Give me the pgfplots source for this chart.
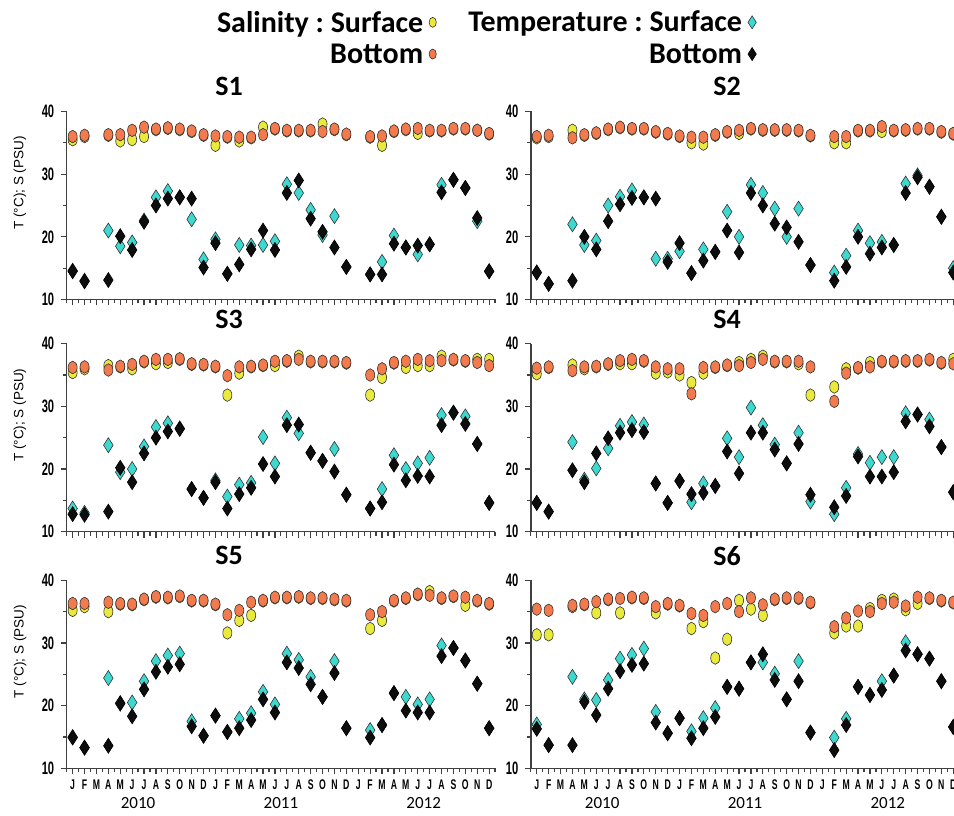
\documentclass[border=0pt]{standalone}
\usepackage{pgfplots}
\pgfplotsset{compat=1.18}
\usepackage{pgfplotstable}
\usepackage{fontspec}
\usepackage{graphicx}
\setmainfont{Carlito}
\newfontfamily\lsans{Liberation Sans}
\definecolor{salS}{HTML}{EAEA3C}
\definecolor{salB}{HTML}{F27A4C}
\definecolor{tmpS}{HTML}{3DD8D0}
\definecolor{tmpB}{HTML}{0D0D0D}
\newcommand{\mc}[1]{\scalebox{0.62}[1]{#1}}
\newcommand{\yc}[1]{\scalebox{0.62}[1]{#1}}
\frenchspacing

\pgfplotstableread{
m ss sb ts tb
0.5 35.5 36.0 14.6 14.5
1.5 36.0 36.2 13.0 12.9
2.5 nan nan nan nan
3.5 36.2 36.3 21.0 13.1
4.5 35.3 36.3 18.5 20.1
5.5 35.5 37.0 19.1 17.9
6.5 36.0 37.5 22.6 22.4
7.5 37.1 37.2 26.3 25.0
8.5 37.3 37.4 27.3 26.1
9.5 37.1 37.2 26.3 26.3
10.5 36.8 36.9 22.8 26.1
11.5 36.2 36.3 16.4 15.1
12.5 34.6 36.1 19.6 19.0
13.5 35.9 36.0 14.1 14.1
14.5 35.3 35.9 18.7 15.6
15.5 35.8 35.9 18.6 18.0
16.5 37.5 36.3 18.7 21.0
17.5 37.2 37.3 19.3 17.9
18.5 36.9 37.0 28.4 27.0
19.5 36.9 37.0 27.0 29.0
20.5 36.9 37.0 24.3 22.9
21.5 38.0 36.8 20.3 20.8
22.5 37.1 37.2 23.3 18.3
23.5 36.3 36.4 15.2 15.2
24.5 nan nan nan nan
25.5 35.9 36.0 14.0 14.0
26.5 34.6 36.1 16.0 14.0
27.5 36.8 36.9 20.2 18.9
28.5 37.1 37.2 18.3 18.3
29.5 36.5 37.3 17.2 18.6
30.5 36.9 37.0 18.8 18.8
31.5 36.9 37.0 28.3 27.1
32.5 37.2 37.3 29.1 29.1
33.5 37.2 37.3 27.8 27.8
34.5 37.0 37.0 22.5 23.0
35.5 36.4 36.5 14.5 14.5
}\dA

\pgfplotstableread{
m ss sb ts tb
0.5 35.8 36.0 14.3 14.3
1.5 36.0 36.2 12.5 12.5
2.5 nan nan nan nan
3.5 37.0 35.8 22.0 13.0
4.5 36.2 36.3 18.7 20.0
5.5 36.5 36.6 19.4 18.0
6.5 37.1 37.2 25.0 22.5
7.5 37.4 37.5 26.4 25.2
8.5 37.2 37.3 27.4 26.2
9.5 37.2 37.3 26.3 26.3
10.5 36.7 36.8 16.5 26.1
11.5 36.4 36.5 16.5 16.0
12.5 36.0 36.1 17.7 19.0
13.5 35.0 35.9 14.2 14.2
14.5 34.8 35.9 18.0 16.2
15.5 36.2 36.3 17.6 17.6
16.5 36.7 36.8 24.0 21.0
17.5 36.5 37.0 20.0 17.5
18.5 37.2 37.3 28.3 27.0
19.5 37.0 37.1 27.0 25.0
20.5 37.0 37.1 24.5 22.1
21.5 37.0 37.1 20.0 21.5
22.5 36.9 37.0 24.5 19.2
23.5 36.1 36.2 15.5 15.5
24.5 nan nan nan nan
25.5 35.0 36.0 14.3 13.0
26.5 35.0 36.0 17.0 15.2
27.5 36.9 37.0 21.0 20.0
28.5 36.9 37.0 19.0 17.3
29.5 36.8 37.6 19.2 18.3
30.5 36.9 37.0 18.7 18.7
31.5 37.0 37.1 28.5 27.0
32.5 37.2 37.3 29.8 29.5
33.5 37.2 37.3 28.0 28.0
34.5 36.7 36.8 23.2 23.2
35.5 36.4 36.5 15.0 14.3
}\dB

\pgfplotstableread{
m ss sb ts tb
0.5 35.4 36.2 13.7 12.8
1.5 36.0 36.3 13.0 12.7
2.5 nan nan nan nan
3.5 36.5 35.8 23.8 13.2
4.5 36.3 36.4 19.5 20.2
5.5 36.0 36.7 20.0 17.9
6.5 37.1 37.2 23.6 22.5
7.5 36.8 37.5 26.7 25.0
8.5 37.0 37.5 27.3 26.0
9.5 37.5 37.6 26.5 26.4
10.5 36.7 36.8 16.8 16.8
11.5 36.6 36.7 15.4 15.4
12.5 36.3 36.4 18.2 17.9
13.5 31.8 34.9 15.6 13.7
14.5 35.3 36.3 17.5 16.0
15.5 36.3 36.4 17.8 17.0
16.5 36.5 36.6 25.1 20.8
17.5 36.5 37.2 20.9 18.8
18.5 37.2 37.3 28.2 27.0
19.5 38.0 37.5 25.7 27.1
20.5 37.1 37.2 22.6 22.6
21.5 37.1 37.2 21.3 21.3
22.5 37.1 37.2 23.2 19.6
23.5 36.9 37.0 15.9 15.9
24.5 nan nan nan nan
25.5 31.8 35.0 13.7 13.7
26.5 34.6 36.0 16.8 14.7
27.5 36.9 37.0 22.2 20.7
28.5 36.2 37.2 20.0 18.2
29.5 36.5 37.5 20.9 18.9
30.5 36.5 37.3 21.8 18.8
31.5 38.0 37.3 28.6 27.0
32.5 37.4 37.5 29.0 29.0
33.5 37.2 37.3 28.4 27.2
34.5 37.5 37.0 24.0 24.0
35.5 37.5 36.5 14.6 14.6
}\dC

\pgfplotstableread{
m ss sb ts tb
0.5 35.2 36.1 14.6 14.6
1.5 36.2 36.3 13.2 13.2
2.5 nan nan nan nan
3.5 36.6 35.7 24.3 19.8
4.5 36.0 36.3 18.3 17.9
5.5 36.3 36.4 20.1 22.5
6.5 36.7 36.8 23.3 24.9
7.5 36.8 37.3 26.9 25.8
8.5 36.8 37.5 27.5 26.2
9.5 37.2 37.3 27.1 25.9
10.5 35.3 36.3 17.7 17.7
11.5 35.5 36.0 14.6 14.6
12.5 35.0 36.0 18.1 18.1
13.5 33.8 32.0 14.7 16.0
14.5 35.3 36.2 17.7 16.2
15.5 36.2 36.3 17.3 17.3
16.5 36.5 36.6 24.9 22.8
17.5 37.0 36.5 21.9 19.3
18.5 37.5 37.0 29.8 25.8
19.5 38.0 37.5 27.0 25.8
20.5 37.1 37.2 23.9 23.1
21.5 37.1 37.2 20.9 20.9
22.5 36.8 37.2 25.8 24.0
23.5 31.8 36.3 14.8 15.9
24.5 nan nan nan nan
25.5 33.1 30.8 12.8 13.9
26.5 36.0 35.3 17.0 15.7
27.5 36.1 36.2 22.4 22.0
28.5 37.0 36.3 21.0 18.8
29.5 37.1 37.2 21.9 18.8
30.5 37.1 37.2 21.9 19.5
31.5 37.2 37.3 28.9 27.6
32.5 37.2 37.3 28.7 28.7
33.5 37.4 37.5 27.9 26.8
34.5 36.9 37.0 23.5 23.5
35.5 37.5 36.8 16.3 16.3
}\dD

\pgfplotstableread{
m ss sb ts tb
0.5 35.2 36.3 15.0 14.9
1.5 35.8 36.3 13.3 13.3
2.5 nan nan nan nan
3.5 35.0 36.5 24.4 13.6
4.5 36.2 36.3 20.3 20.4
5.5 36.1 36.2 20.5 18.3
6.5 36.9 37.0 23.9 22.6
7.5 37.3 37.4 27.1 25.4
8.5 37.2 37.3 28.0 26.2
9.5 37.4 37.5 28.3 26.6
10.5 36.7 36.8 17.5 16.7
11.5 36.7 36.8 15.2 15.2
12.5 36.1 36.2 18.4 18.4
13.5 31.6 34.5 15.8 15.8
14.5 33.6 35.2 17.9 16.4
15.5 34.4 36.5 18.8 17.7
16.5 36.7 36.8 22.2 21.0
17.5 37.2 37.3 20.2 18.9
18.5 37.2 37.3 28.3 26.9
19.5 37.3 37.4 27.3 26.0
20.5 37.1 37.2 24.6 23.4
21.5 37.1 37.2 21.4 21.4
22.5 36.9 37.0 27.1 25.2
23.5 36.7 36.8 16.4 16.4
24.5 nan nan nan nan
25.5 32.3 34.5 16.1 14.9
26.5 33.6 35.0 16.9 16.9
27.5 36.7 36.8 22.0 22.0
28.5 37.1 37.2 21.4 19.2
29.5 37.7 37.8 20.2 18.9
30.5 38.2 37.6 21.0 18.9
31.5 37.1 37.2 29.6 27.9
32.5 37.4 37.5 29.2 29.2
33.5 36.0 37.3 27.2 27.2
34.5 36.7 36.8 23.5 23.5
35.5 36.2 36.3 16.4 16.4
}\dE

\pgfplotstableread{
m ss sb ts tb
0.5 31.3 35.4 17.0 16.3
1.5 31.3 35.2 13.7 13.7
2.5 nan nan nan nan
3.5 35.8 36.0 24.6 13.7
4.5 36.1 36.2 21.0 20.6
5.5 34.8 36.6 20.9 18.5
6.5 36.9 37.0 24.1 22.7
7.5 34.8 37.1 27.5 25.5
8.5 37.2 37.3 28.1 26.5
9.5 37.1 37.2 29.1 26.7
10.5 34.8 35.8 19.0 17.3
11.5 36.2 36.3 15.6 15.6
12.5 35.9 36.0 18.0 18.0
13.5 32.3 34.7 15.9 14.8
14.5 33.4 34.4 18.0 16.4
15.5 27.6 35.8 19.6 18.2
16.5 30.6 36.3 23.0 23.0
17.5 36.8 35.0 22.7 22.7
18.5 35.4 37.2 26.9 26.9
19.5 34.4 36.1 26.9 28.2
20.5 36.9 37.0 25.1 24.1
21.5 37.1 37.2 21.0 21.0
22.5 37.1 37.2 27.1 23.9
23.5 36.4 36.5 15.7 15.7
24.5 nan nan nan nan
25.5 31.6 32.6 14.9 12.9
26.5 32.7 34.0 17.9 16.9
27.5 32.7 35.1 23.0 23.0
28.5 35.5 35.0 21.7 21.7
29.5 36.8 36.3 23.9 22.5
30.5 37.0 36.5 24.8 24.8
31.5 35.3 35.9 30.1 28.8
32.5 36.3 37.3 28.2 28.2
33.5 37.1 37.2 27.5 27.5
34.5 36.7 36.8 23.9 23.9
35.5 36.4 36.5 16.6 16.6
}\dF

\pgfplotsset{
  ssS/.style={only marks, mark=*, mark size=6.3pt, mark options={fill=salS, draw=black!80, line width=0.6pt, xscale=0.72}},
  sbS/.style={only marks, mark=*, mark size=6.3pt, mark options={fill=salB, draw=black!80, line width=0.6pt, xscale=0.72}},
  tsS/.style={only marks, mark=diamond*, mark size=7.5pt, mark options={fill=tmpS, draw=black!80, line width=0.6pt, xscale=0.85}},
  tbS/.style={only marks, mark=diamond*, mark size=7.5pt, mark options={fill=tmpB, draw=black, line width=0.6pt, xscale=0.85}},
  panel/.style={scale only axis, width=428.4pt, height=188pt, anchor=south west,
    xmin=0, xmax=36, ymin=10, ymax=40, clip=false,
    axis x line*=bottom, axis y line*=left, tick align=outside,
    xtick={0.5,1.5,...,35.5}, minor xtick={0,1,...,36},
    ytick={10,20,30,40}, minor ytick={15,25,35},
    yticklabels={\yc{10},\yc{20},\yc{30},\yc{40}}, xticklabels={},
    major tick length=6pt, minor tick length=4pt,
    tick style={black!75, line width=1.2pt},
    axis line style={black!75, line width=1.4pt},
    yticklabel style={font=\lsans\bfseries\fontsize{18}{18}\selectfont, xshift=-3pt},
    xticklabel style={font=\lsans\bfseries\fontsize{14}{14}\selectfont, inner sep=1pt, yshift=-4pt},
    title style={font=\bfseries\fontsize{28}{28}\selectfont, anchor=center, yshift=18.7pt},
    ylabel style={font=\lsans\fontsize{13.5}{13.5}\selectfont, at={(axis description cs:-0.109,0.62)}, anchor=center},
  },
  leftp/.style={panel, ylabel={T (°C); S (PSU)}, title style={at={(axis description cs:0.379,1)}}},
  rightp/.style={panel, title style={at={(axis description cs:0.458,1)}}},
  months/.style={xticklabels={\mc{J},\mc{F},\mc{M},\mc{A},\mc{M},\mc{J},\mc{J},\mc{A},\mc{S},\mc{O},\mc{N},\mc{D},
    \mc{J},\mc{F},\mc{M},\mc{A},\mc{M},\mc{J},\mc{J},\mc{A},\mc{S},\mc{O},\mc{N},\mc{D},
    \mc{J},\mc{F},\mc{M},\mc{A},\mc{M},\mc{J},\mc{J},\mc{A},\mc{S},\mc{O},\mc{N},\mc{D}}},
}
\newcommand{\four}[1]{%
  \addplot[ssS, forget plot] table[x=m, y=ss] {#1};
  \addplot[sbS, forget plot] table[x=m, y=sb] {#1};
  \addplot[tsS, forget plot] table[x=m, y=ts] {#1};
  \addplot[tbS, forget plot] table[x=m, y=tb] {#1};
}
\newcommand{\years}{%
  \node[font=\fontsize{17}{17}\selectfont, inner sep=0pt] at (axis cs:6,10) [yshift=-35pt] {2010};
  \node[font=\fontsize{17}{17}\selectfont, inner sep=0pt] at (axis cs:18,10) [yshift=-35pt] {2011};
  \node[font=\fontsize{17}{17}\selectfont, inner sep=0pt] at (axis cs:30,10) [yshift=-35pt] {2012};
}

\begin{document}
\begin{tikzpicture}
\useasboundingbox (0,0) rectangle (954pt,815pt);
% S1
\begin{axis}[leftp, at={(66.7pt,515.5pt)}, title={S1},
  legend columns=2, legend plot pos=right, legend cell align=right,
  legend style={at={(axis description cs:0.978,1.392)}, anchor=center, draw=none, fill=none,
    font=\bfseries\fontsize{30}{30}\selectfont, row sep=6pt,
    /tikz/every odd column/.append style={column sep=4pt},
    /tikz/every even column/.append style={column sep=30pt}}]
\four{\dA}
\addlegendimage{only marks, mark=*, mark size=5pt, mark options={fill=salS, draw=black!80, line width=0.6pt, xscale=0.72}}
\addlegendentry{Salinity : Surface}
\addlegendimage{only marks, mark=diamond*, mark size=6.5pt, mark options={fill=tmpS, draw=black!80, line width=0.6pt, xscale=0.85}}
\addlegendentry{Temperature : Surface}
\addlegendimage{only marks, mark=*, mark size=5pt, mark options={fill=salB, draw=black!80, line width=0.6pt, xscale=0.72}}
\addlegendentry{Bottom}
\addlegendimage{only marks, mark=diamond*, mark size=6.5pt, mark options={fill=tmpB, draw=black, line width=0.6pt, xscale=0.85}}
\addlegendentry{Bottom}
\end{axis}
% S3
\begin{axis}[leftp, at={(66.7pt,283.3pt)}, title={S3}]
\four{\dC}
\end{axis}
% S5
\begin{axis}[leftp, months, at={(66.7pt,46.7pt)}, title={S5}]
\four{\dE}
\years
\end{axis}
% S2
\begin{axis}[rightp, at={(530.8pt,515.5pt)}, title={S2}]
\four{\dB}
\end{axis}
% S4
\begin{axis}[rightp, at={(530.8pt,283.3pt)}, title={S4}]
\four{\dD}
\end{axis}
% S6
\begin{axis}[rightp, months, at={(530.8pt,46.7pt)}, title={S6}]
\four{\dF}
\years
\end{axis}
\end{tikzpicture}
\end{document}
